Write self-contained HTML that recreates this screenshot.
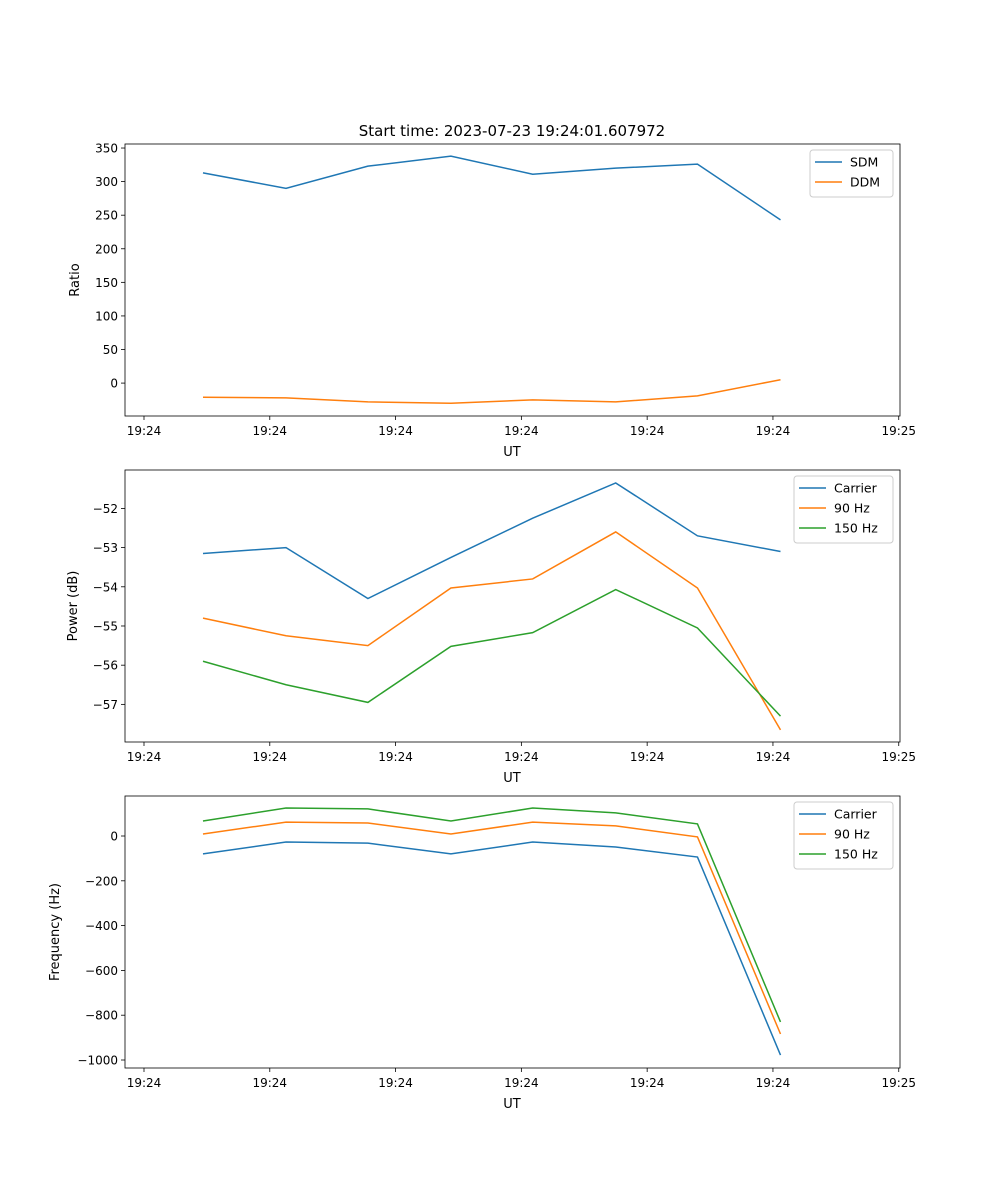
<!DOCTYPE html>
<html><head><meta charset="utf-8"><style>
body{margin:0;background:#fff}
svg{display:block;font-family:"DejaVu Sans","Liberation Sans",sans-serif}
</style></head><body>
<svg id="fig" width="1000" height="1200" xmlns="http://www.w3.org/2000/svg">
<rect width="1000" height="1200" fill="#fff"/>
<text x="512" y="136" font-size="15" text-anchor="middle">Start time: 2023-07-23 19:24:01.607972</text>
</svg>
<script>
const times=[4.69,11.29,17.8,24.4,30.9,37.5,44.0,50.6];
const xTicks=[0,10,20,30,40,50,60];
const xTickLabels=["19:24","19:24","19:24","19:24","19:24","19:24","19:25"];
const sdm=[313,290,323,338,311,320,326,243];
const ddm=[-21,-22,-28,-30,-25,-28,-19,5];
const pCarrier=[-53.15,-53.0,-54.3,-53.25,-52.25,-51.35,-52.7,-53.1];
const p90=[-54.8,-55.25,-55.5,-54.03,-53.8,-52.6,-54.03,-57.65];
const p150=[-55.9,-56.5,-56.95,-55.52,-55.17,-54.07,-55.05,-57.3];
const fCarrier=[-80,-27,-32,-80,-27,-49,-94,-978];
const f90=[9,62,58,9,62,45,-4,-884];
const f150=[67,125,121,67,125,103,54,-830];
const ticks1=[0,50,100,150,200,250,300,350];
const ticks2=[-57,-56,-55,-54,-53,-52];
const ticks3=[-1000,-800,-600,-400,-200,0];

const NS="http://www.w3.org/2000/svg";
const svg=document.getElementById('fig');
function el(t,a,p){const e=document.createElementNS(NS,t);for(const k in a)e.setAttribute(k,a[k]);(p||svg).appendChild(e);return e;}
const X0=125,X1=900,xmin=-1.51,xmax=60.1;
const xs=v=>X0+(v-xmin)/(xmax-xmin)*(X1-X0);
const C=['#1f77b4','#ff7f0e','#2ca02c'];
function panel(name,top,bot,ymin,ymax,yt,ylab,ylabX,series,labels,leg){
  const g=el('g',{});
  
  
  const ys=v=>bot-(v-ymin)/(ymax-ymin)*(bot-top);
  series.forEach((s,i)=>{
    const p=el('polyline',{points:s.map((v,j)=>xs(times[j])+','+ys(v)).join(' '),fill:'none',stroke:C[i],'stroke-width':1.5},g);
    
    
  });
  el('rect',{x:X0,y:top,width:X1-X0,height:bot-top,fill:'none',stroke:'#000','stroke-width':0.8},g);
  xTicks.forEach((t,i)=>{const x=xs(t);el('line',{x1:x,x2:x,y1:bot,y2:bot+4,stroke:'#000','stroke-width':0.8},g);
    const tx=el('text',{x:x,y:bot+19,'font-size':12,'text-anchor':'middle'},g);tx.textContent=xTickLabels[i];
    
    });
  yt.forEach(t=>{const y=ys(t);el('line',{x1:X0-4,x2:X0,y1:y,y2:y,stroke:'#000','stroke-width':0.8},g);
    const tx=el('text',{x:X0-7,y:y+4.5,'font-size':12,'text-anchor':'end'},g);tx.textContent=t<0?'\u2212'+(-t):t;
    
    });
  const xl=el('text',{x:512,y:bot+40,'font-size':13,'text-anchor':'middle'},g);xl.textContent='UT';
  
  
  const yc=(top+bot)/2;
  const yl=el('text',{x:ylabX,y:yc,'font-size':13,'text-anchor':'middle',transform:`rotate(-90 ${ylabX} ${yc})`},g);yl.textContent=ylab;
  
  
  const lg=el('g',{},g);
  
  
  el('rect',{x:leg[0],y:top+6,width:leg[1],height:7+20*labels.length,rx:3,fill:'#fff',stroke:'#ccc'},lg);
  labels.forEach((l,i)=>{const y=top+18+i*20;
    el('line',{x1:leg[0]+5,x2:leg[0]+32,y1:y,y2:y,stroke:C[i],'stroke-width':1.5},lg);
    const t=el('text',{x:leg[0]+40,y:y+4.5,'font-size':12.5},lg);t.textContent=l;
    
    });
}
panel('ratio',144,416,-49,356,ticks1,'Ratio',79,[sdm,ddm],['SDM','DDM'],[810,83]);
panel('power',470,742,-57.96,-51.02,ticks2,'Power (dB)',77,[pCarrier,p90,p150],['Carrier','90 Hz','150 Hz'],[794,99]);
panel('frequency',796,1068,-1035.7,178.6,ticks3,'Frequency (Hz)',59,[fCarrier,f90,f150],['Carrier','90 Hz','150 Hz'],[794,99]);
</script>
</body></html>
